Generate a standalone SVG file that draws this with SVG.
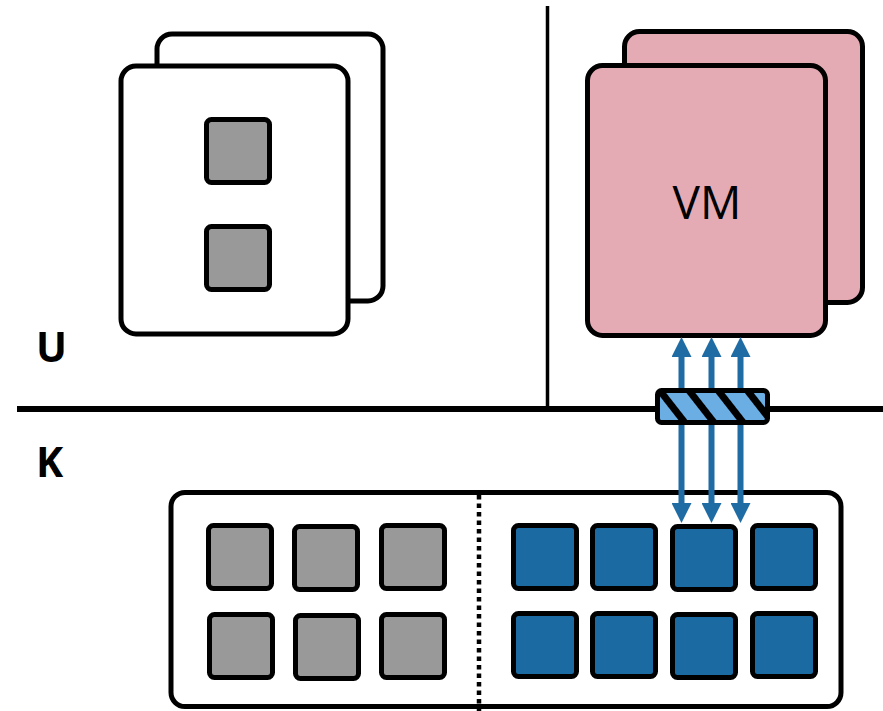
<svg xmlns="http://www.w3.org/2000/svg" width="883" height="711" viewBox="0 0 883 711">
  <style>
    .card { fill: #ffffff; stroke: #000; stroke-width: 5; }
    .vm { fill: #E5ABB5; stroke: #000; stroke-width: 5; }
    .gray { fill: #999999; stroke: #000; stroke-width: 5; }
    .blue { fill: #1B6AA1; stroke: #000; stroke-width: 5; }
    .rule { stroke: #000; fill: none; }
    .lbl { font-family: "Open Sans", "Liberation Sans", sans-serif; fill: #000; }
    .arrow { stroke: #1F6BA4; stroke-width: 6; fill: none; marker-start: url(#head); marker-end: url(#head); }
  </style>
  <defs>
    <marker id="head" viewBox="0 0 20 20" refX="0" refY="10" markerWidth="20" markerHeight="20" markerUnits="userSpaceOnUse" orient="auto-start-reverse">
      <path d="M0,0 L20,10 L0,20 z" fill="#1F6BA4"/>
    </marker>
    <pattern id="hatch" width="23" height="23" patternUnits="userSpaceOnUse" patternTransform="rotate(-38)">
      <rect width="23" height="23" fill="#6AAEE4"/>
      <rect width="7" height="23" fill="#000"/>
    </pattern>
  </defs>

  <!-- user/kernel boundary and separator -->
  <g id="boundaries">
    <line class="rule" x1="547.5" y1="6" x2="547.5" y2="407" stroke-width="3.5"/>
    <line class="rule" x1="17" y1="409" x2="883" y2="409" stroke-width="6"/>
  </g>

  <text class="lbl" x="36" y="362" font-size="41" font-weight="bold">U</text>
  <text class="lbl" x="36" y="477" font-size="41" font-weight="bold">K</text>

  <!-- process stack -->
  <g id="process">
    <rect class="card" x="157" y="34" width="226" height="267" rx="15"/>
    <rect class="card" x="121" y="66" width="227" height="268" rx="15"/>
    <rect class="gray" x="206.5" y="119.5" width="63" height="63" rx="5"/>
    <rect class="gray" x="206.5" y="226.5" width="63" height="63" rx="5"/>
  </g>

  <!-- virtual machine stack -->
  <g id="vm">
    <rect class="vm" x="624.5" y="31.5" width="238" height="271" rx="15"/>
    <rect class="vm" x="587.5" y="65.5" width="238" height="270" rx="15"/>
    <text class="lbl" x="707" y="219" font-size="46" text-anchor="middle">VM</text>
  </g>

  <!-- kernel memory -->
  <g id="kernel">
    <rect class="card" x="171" y="492.5" width="670" height="214" rx="14"/>
    <line class="rule" x1="479" y1="495" x2="479" y2="711" stroke-width="4.5" stroke-dasharray="4.5 4"/>
    <rect class="gray" x="208.5" y="525.5" width="63" height="63" rx="5"/>
    <rect class="gray" x="294.5" y="526.5" width="63" height="63" rx="5"/>
    <rect class="gray" x="381.5" y="525.5" width="63" height="63" rx="5"/>
    <rect class="gray" x="209.5" y="614.5" width="63" height="63" rx="5"/>
    <rect class="gray" x="295.5" y="615.5" width="63" height="63" rx="5"/>
    <rect class="gray" x="381.5" y="614.5" width="63" height="63" rx="5"/>
    <rect class="blue" x="513.5" y="525.5" width="63" height="63" rx="5"/>
    <rect class="blue" x="592.5" y="525.5" width="63" height="63" rx="5"/>
    <rect class="blue" x="672.5" y="526.5" width="63" height="63" rx="5"/>
    <rect class="blue" x="752.5" y="525.5" width="63" height="63" rx="5"/>
    <rect class="blue" x="513.5" y="613.5" width="63" height="63" rx="5"/>
    <rect class="blue" x="592.5" y="613.5" width="63" height="63" rx="5"/>
    <rect class="blue" x="672.5" y="614.5" width="63" height="63" rx="5"/>
    <rect class="blue" x="752.5" y="613.5" width="63" height="63" rx="5"/>
  </g>

  <!-- connectors -->
  <g id="connectors">
    <line class="arrow" x1="681.5" y1="357" x2="681.5" y2="503"/>
    <line class="arrow" x1="711.5" y1="357" x2="711.5" y2="503"/>
    <line class="arrow" x1="740.5" y1="357" x2="740.5" y2="503"/>
  </g>

  <!-- hatched interface gate -->
  <g id="gate">
    <rect x="657.5" y="390.5" width="110" height="32" rx="4" fill="url(#hatch)" stroke="#000" stroke-width="5"/>
  </g>
</svg>
